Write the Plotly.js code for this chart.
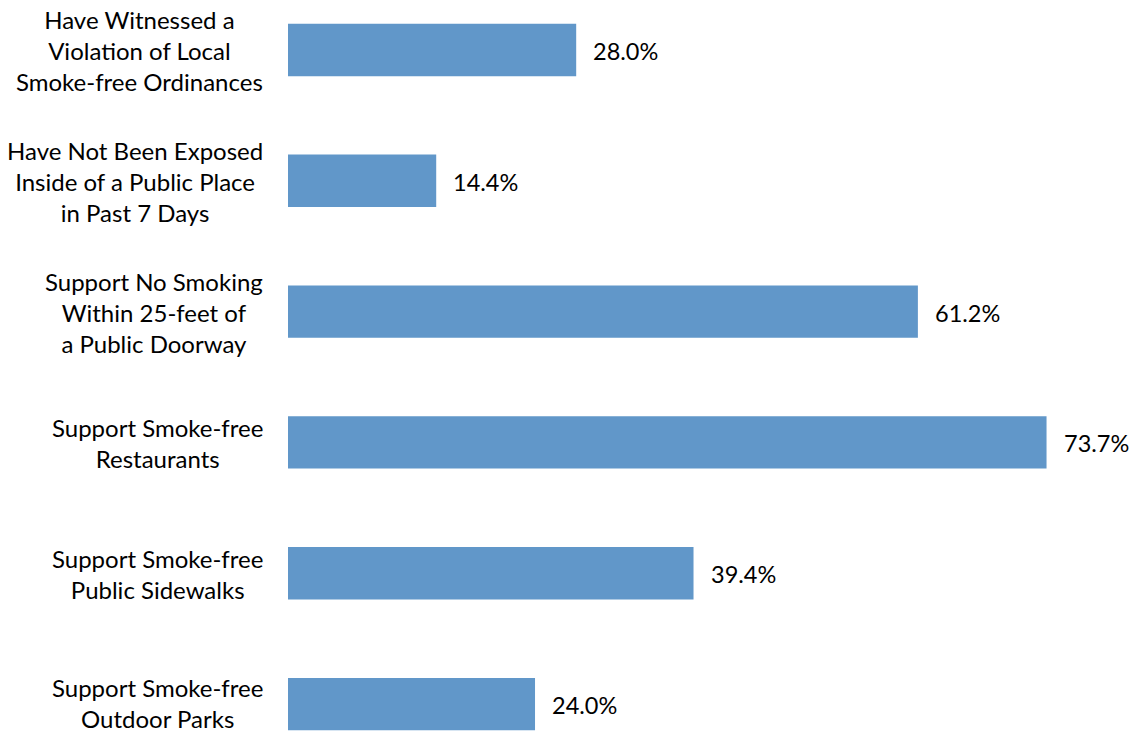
<!DOCTYPE html>
<html>
<head>
<meta charset="utf-8">
<script src="https://cdn.plot.ly/plotly-3.0.1.min.js"></script>
<style>html,body{margin:0;padding:0;background:#fff;}#chart{width:1133px;height:734px;}</style>
</head>
<body>
<div id="chart"></div>
<script>
const categories = [
  "Have Witnessed a<br>Violation of Local<br>Smoke-free Ordinances",
  "Have Not Been Exposed<br>Inside of a Public Place<br>in Past 7 Days",
  "Support No Smoking<br>Within 25-feet of<br>a Public Doorway",
  "Support Smoke-free<br>Restaurants",
  "Support Smoke-free<br>Public Sidewalks",
  "Support Smoke-free<br>Outdoor Parks"
];
const values = [28.0, 14.4, 61.2, 73.7, 39.4, 24.0];
const valueLabels = values.map(v => v.toFixed(1) + "%");

const FONT = "Lato, 'Open Sans', sans-serif";

const trace = {
  type: "bar",
  orientation: "h",
  x: values,
  y: categories,
  width: 0.4,
  marker: {color: "#6197C9", line: {width: 0}},
  hoverinfo: "none"
};

const annotations = [];
categories.forEach((c, i) => {
  annotations.push({
    xref: "paper", yref: "y", x: 0, y: c,
    xanchor: "right", yanchor: "middle", xshift: -24, yshift: i === categories.length - 1 ? 1 : -1,
    text: c, showarrow: false, align: "center", borderpad: 0,
    font: {family: FONT, size: 24, color: "#000"}
  });
  annotations.push({
    xref: "x", yref: "y", x: values[i], y: c,
    xanchor: "left", yanchor: "middle", xshift: 15, yshift: -1,
    text: valueLabels[i], showarrow: false,
    font: {family: FONT, size: 23.5, color: "#000"}
  });
});

const layout = {
  width: 1133, height: 734,
  margin: {l: 288, r: 0, t: 0, b: 0, pad: 0},
  paper_bgcolor: "#fff", plot_bgcolor: "#fff",
  showlegend: false,
  xaxis: {range: [0, 82.1], visible: false, fixedrange: true},
  yaxis: {type: "category", categoryorder: "array", categoryarray: categories,
          range: [5.229, -0.382], showticklabels: false, showgrid: false,
          zeroline: false, showline: false, ticks: "", fixedrange: true},
  annotations: annotations
};

Plotly.newPlot("chart", [trace], layout, {displayModeBar: false, staticPlot: true});
</script>
</body>
</html>
